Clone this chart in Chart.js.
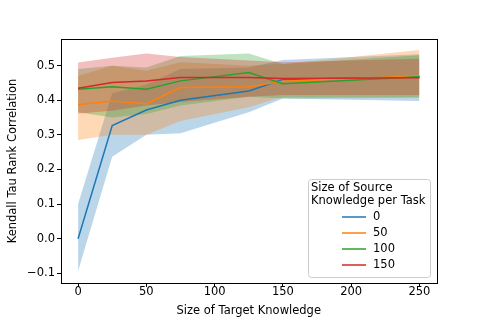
<!DOCTYPE html>
<html>
  <head>
    <title>Kendall tau vs target knowledge</title>
    <script src="https://cdn.jsdelivr.net/npm/chart.js"></script>
    <style>
      body { margin: 0; background: #fff; }
      #wrap { width: 485px; height: 323px; }
    </style>
  </head>
  <body>
    <div id="wrap">
      <canvas id="myChart" width="485" height="323"></canvas>
    </div>
    <script>
      'use strict'
      const targetSizes = [0, 25, 50, 75, 125, 150, 250];
      const sourceSizes = ['0', '50', '100', '150'];
      const colors = ['#1f77b4', '#ff7f0e', '#2ca02c', '#d62728'];

      // mean curves per source size
      const mean0 = [0.000, 0.327, 0.372, 0.400, 0.427, 0.460, 0.468];
      const mean50 = [0.387, 0.398, 0.390, 0.437, 0.439, 0.455, 0.471];
      const mean100 = [0.432, 0.439, 0.432, 0.456, 0.480, 0.448, 0.468];
      const mean150 = [0.435, 0.451, 0.456, 0.466, 0.466, 0.463, 0.465];

      // shaded band bounds
      const low0 = [-0.093, 0.237, 0.300, 0.305, 0.365, 0.405, 0.398];
      const high0 = [0.100, 0.420, 0.445, 0.490, 0.495, 0.516, 0.533];
      const low50 = [0.285, 0.300, 0.300, 0.340, 0.380, 0.410, 0.410];
      const high50 = [0.470, 0.500, 0.485, 0.510, 0.500, 0.505, 0.545];
      const low100 = [0.365, 0.350, 0.360, 0.385, 0.410, 0.405, 0.407];
      const high100 = [0.490, 0.500, 0.495, 0.528, 0.535, 0.505, 0.530];
      const low150 = [0.362, 0.370, 0.385, 0.395, 0.410, 0.415, 0.415];
      const high150 = [0.509, 0.523, 0.535, 0.525, 0.515, 0.510, 0.520];

      const xTicks = [0, 50, 100, 150, 200, 250];
      const yTicks = [-0.1, 0.0, 0.1, 0.2, 0.3, 0.4, 0.5];

      const means = [mean0, mean50, mean100, mean150];
      const lows = [low0, low50, low100, low150];
      const highs = [high0, high50, high100, high150];

      function toPoints(values) {
        return values.map((v, i) => ({ x: targetSizes[i], y: v }));
      }

      function alpha(hex, a) {
        const n = parseInt(hex.slice(1), 16);
        return `rgba(${n >> 16}, ${(n >> 8) & 255}, ${n & 255}, ${a})`;
      }

      // chart.js paints higher "order" first, so the first series gets the highest
      const datasets = [];
      for (let i = 0; i < sourceSizes.length; i++) {
        datasets.push({
          label: 'low' + sourceSizes[i],
          data: toPoints(lows[i]),
          borderWidth: 0,
          pointRadius: 0,
          fill: false,
          order: 20 - i,
        });
        datasets.push({
          label: 'high' + sourceSizes[i],
          data: toPoints(highs[i]),
          borderWidth: 0,
          pointRadius: 0,
          backgroundColor: alpha(colors[i], 0.3),
          fill: '-1',
          order: 20 - i,
        });
      }
      for (let i = 0; i < sourceSizes.length; i++) {
        datasets.push({
          label: sourceSizes[i],
          data: toPoints(means[i]),
          borderColor: colors[i],
          borderWidth: 1.5,
          pointRadius: 0,
          fill: false,
          order: 5 - i,
        });
      }

      const fontFamily = '"DejaVu Sans", sans-serif';
      const fontSize = 11.5;

      // axes frame + legend box inside the plot
      const framePlugin = {
        id: 'frame',
        afterDraw(chart) {
          const ctx = chart.ctx;
          const a = chart.chartArea;
          ctx.save();
          ctx.strokeStyle = '#000';
          ctx.lineWidth = 1;
          ctx.strokeRect(Math.round(a.left) + 0.5, Math.round(a.top) + 0.5,
            Math.round(a.right - a.left), Math.round(a.bottom - a.top));

          // legend
          const bx = 308, by = 179, bw = 122, bh = 98;
          ctx.beginPath();
          ctx.roundRect(bx + 0.5, by + 0.5, bw, bh, 3);
          ctx.fillStyle = 'rgba(255,255,255,0.8)';
          ctx.fill();
          ctx.strokeStyle = '#cccccc';
          ctx.stroke();

          ctx.fillStyle = '#000';
          ctx.font = fontSize + 'px ' + fontFamily;
          ctx.textBaseline = 'middle';
          ctx.textAlign = 'left';
          ctx.fillText('Size of Source', bx + 3, by + 9);
          ctx.fillText('Knowledge per Task', bx + 3, by + 22);
          for (let i = 0; i < sourceSizes.length; i++) {
            const y = by + 38 + i * 16;
            ctx.strokeStyle = colors[i];
            ctx.lineWidth = 1.5;
            ctx.beginPath();
            ctx.moveTo(342, y);
            ctx.lineTo(366, y);
            ctx.stroke();
            ctx.fillText(sourceSizes[i], 373, y);
          }
          ctx.restore();
        }
      };

      const ctx = document.getElementById('myChart');

      new Chart(ctx, {
        type: 'line',
        data: { datasets: datasets },
        plugins: [framePlugin],
        options: {
          responsive: false,
          animation: false,
          events: [],
          layout: { padding: { left: 0, top: 39, right: 48.5, bottom: 0 } },
          plugins: {
            legend: { display: false },
            tooltip: { enabled: false },
          },
          scales: {
            x: {
              type: 'linear',
              min: -12.5,
              max: 262.5,
              afterBuildTicks: (scale) => { scale.ticks = xTicks.map(v => ({ value: v })); },
              afterFit: (scale) => { scale.height = 40; },
              grid: { drawOnChartArea: false, drawTicks: true, tickLength: 4, color: '#000' },
              border: { display: false },
              ticks: {
                color: '#000',
                padding: -2,
                maxRotation: 0,
                font: { family: fontFamily, size: fontSize },
                callback: (v) => String(v),
              },
              title: {
                display: true,
                text: 'Size of Target Knowledge',
                color: '#000',
                padding: { top: 0, bottom: 5 },
                font: { family: fontFamily, size: fontSize },
              },
            },
            y: {
              min: -0.128,
              max: 0.577,
              afterBuildTicks: (scale) => { scale.ticks = yTicks.map(v => ({ value: v })); },
              afterFit: (scale) => { scale.width = 61; },
              grid: { drawOnChartArea: false, drawTicks: true, tickLength: 4, color: '#000' },
              border: { display: false },
              ticks: {
                color: '#000',
                padding: 2,
                font: { family: fontFamily, size: fontSize },
                callback: (v) => v.toFixed(1).replace('-', '\u2212'),
              },
              title: {
                display: true,
                text: 'Kendall Tau Rank Correlation',
                color: '#000',
                padding: { top: 6, bottom: 0 },
                font: { family: fontFamily, size: fontSize },
              },
            },
          },
        },
      });
    </script>
  </body>
</html>
